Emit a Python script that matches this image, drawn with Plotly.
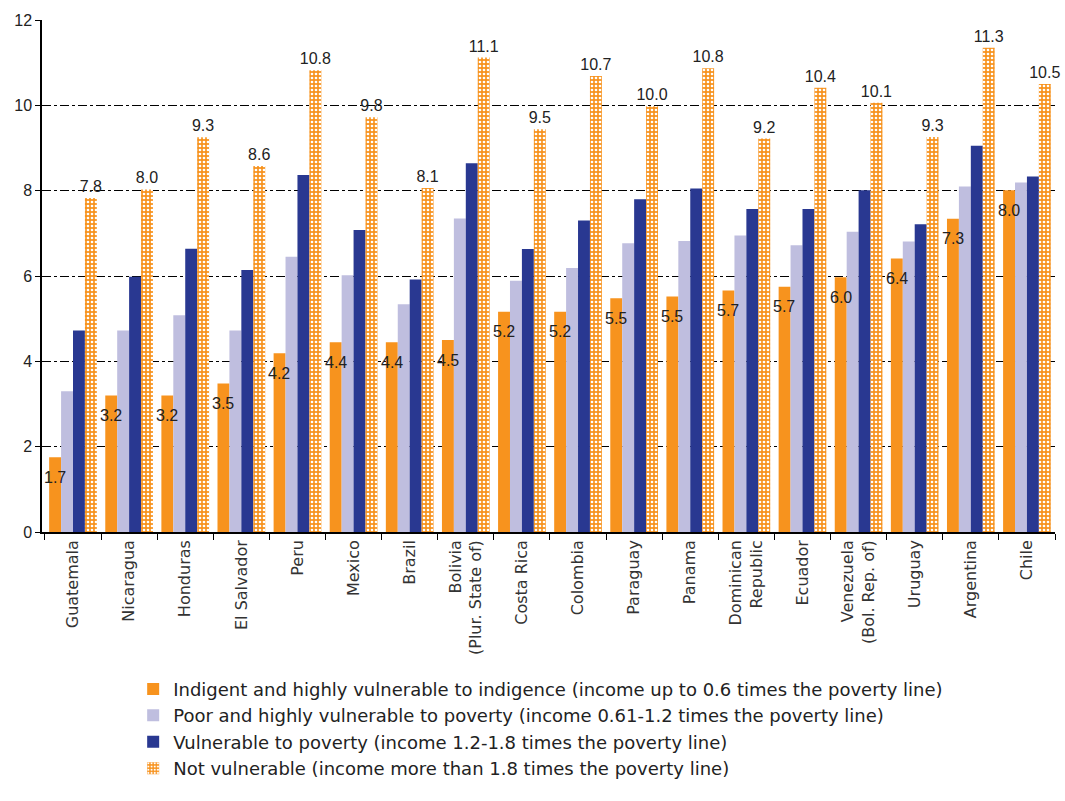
import plotly.graph_objects as go

countries = ["Guatemala", "Nicaragua", "Honduras", "El Salvador", "Peru", "Mexico",
             "Brazil", "Bolivia<br>(Plur. State of)", "Costa Rica", "Colombia", "Paraguay",
             "Panama", "Dominican<br>Republic", "Ecuador", "Venezuela<br>(Bol. Rep. of)",
             "Uruguay", "Argentina", "Chile"]

indigent = [1.75, 3.2, 3.2, 3.48, 4.19, 4.45, 4.45, 4.5, 5.16, 5.16, 5.48, 5.52,
            5.66, 5.75, 5.97, 6.41, 7.34, 8.01]
indigent_labels = ["1.7", "3.2", "3.2", "3.5", "4.2", "4.4", "4.4", "4.5", "5.2", "5.2",
                   "5.5", "5.5", "5.7", "5.7", "6.0", "6.4", "7.3", "8.0"]
poor = [3.3, 4.72, 5.08, 4.72, 6.45, 6.02, 5.34, 7.35, 5.89, 6.19, 6.77, 6.82,
        6.95, 6.72, 7.04, 6.81, 8.10, 8.19]
vulnerable = [4.72, 5.98, 6.64, 6.14, 8.37, 7.08, 5.92, 8.64, 6.63, 7.30, 7.80, 8.05,
              7.57, 7.57, 8.01, 7.21, 9.05, 8.33]
not_vulnerable = [7.83, 8.03, 9.25, 8.58, 10.82, 9.72, 8.06, 11.12, 9.44, 10.69, 9.98, 10.87,
                  9.22, 10.41, 10.06, 9.26, 11.35, 10.5]
nv_labels = ["7.8", "8.0", "9.3", "8.6", "10.8", "9.8", "8.1", "11.1", "9.5", "10.7",
             "10.0", "10.8", "9.2", "10.4", "10.1", "9.3", "11.3", "10.5"]

names = ["Indigent and highly vulnerable to indigence (income up to 0.6 times the poverty line)",
         "Poor and highly vulnerable to poverty (income 0.61-1.2 times the poverty line)",
         "Vulnerable to poverty (income 1.2-1.8 times the poverty line)",
         "Not vulnerable (income more than 1.8 times the poverty line)"]

ORANGE = "#F7931E"
LAV = "#BFBEDF"
BLUE = "#293891"
FONT = "Liberation Sans, Arial, sans-serif"
WIDE = "DejaVu Sans, Verdana, sans-serif"

fig = go.Figure()
fig.add_trace(go.Bar(x=countries, y=indigent, name=names[0], marker_color=ORANGE,
                     marker_line_width=0))
fig.add_trace(go.Bar(x=countries, y=poor, name=names[1], marker_color=LAV,
                     marker_line_width=0))
fig.add_trace(go.Bar(x=countries, y=vulnerable, name=names[2], marker_color=BLUE,
                     marker_line_width=0))
fig.add_trace(go.Bar(x=countries, y=not_vulnerable, name=names[3],
                     marker=dict(color=ORANGE, line=dict(width=0),
                                 pattern=dict(shape=".", fgcolor="white", bgcolor=ORANGE,
                                              size=4, solidity=0.35, fillmode="replace")),
                     text=nv_labels, textposition="outside", constraintext="none",
                     textfont=dict(size=16, color="#222", family=FONT),
                     cliponaxis=False))

for c, v, lab in zip(countries, indigent, indigent_labels):
    fig.add_annotation(x=c, y=v, text=lab, showarrow=False, xref="x", yref="y",
                       xshift=-18, yshift=-20, yanchor="middle",
                       font=dict(size=16, color="#222", family=FONT))

fig.update_layout(
    barmode="group", bargap=0.15, bargroupgap=0,
    width=1065, height=801,
    margin=dict(l=42, r=10, t=20, b=269),
    plot_bgcolor="white", paper_bgcolor="white",
    font=dict(family=FONT, color="#222"),
    legend=dict(orientation="v", x=0.09, xanchor="left", y=-0.271, yanchor="top",
                font=dict(size=18, color="#222", family=WIDE), traceorder="normal",
                itemwidth=30),
    showlegend=True,
)
fig.update_yaxes(range=[0, 12], dtick=2, showline=True, linecolor="black", linewidth=1.5,
                 ticks="outside", ticklen=5, tickcolor="black",
                 showgrid=True, gridcolor="black", griddash="dashdot", gridwidth=1,
                 tickfont=dict(size=16, color="#222", family=FONT), zeroline=False)
fig.update_xaxes(showline=True, linecolor="black", linewidth=1.5, ticks="outside",
                 tickson="boundaries", ticklen=6, tickcolor="black", tickangle=-90,
                 tickfont=dict(size=16, color="#333", family=WIDE))

fig.write_html("out.html")
